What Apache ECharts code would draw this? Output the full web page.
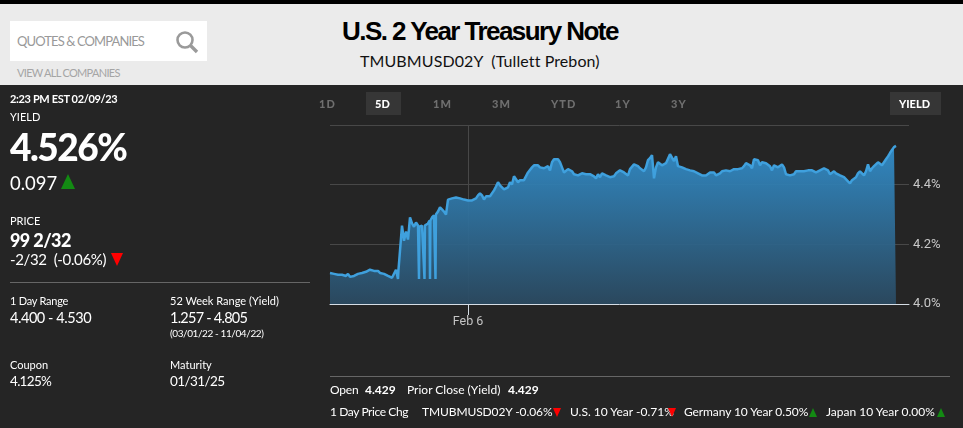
<!DOCTYPE html>
<html>
<head>
<meta charset="utf-8">
<title>U.S. 2 Year Treasury Note</title>
<script src="https://cdn.jsdelivr.net/npm/echarts@6/dist/echarts.min.js"></script>
<style>
    html, body { margin: 0; padding: 0; width: 963px; height: 428px; overflow: hidden; background: #252525; }
    body { position: relative; font-family: Lato, "Noto Sans", sans-serif; color: #fff; }
    #top { position: absolute; left: 0; top: 0; width: 963px; height: 4px; background: #000; }
    #head { position: absolute; left: 0; top: 4px; width: 963px; height: 81px; background: #ebebeb; }
    #search { position: absolute; left: 10px; top: 21px; width: 197px; height: 40px; background: #fff; }
    #chart { position: absolute; left: 0; top: 0; width: 963px; height: 428px; }
    .t { position: absolute; white-space: pre; transform: translateY(-50%); line-height: 1; }
    .tab { font-weight: 900; font-size: 11px; color: #6f6f6f; letter-spacing: 1px; }
    .on { color: #fff; letter-spacing: 0; }
    .box { position: absolute; top: 92px; height: 23px; background: #363636; }
    .rule { position: absolute; height: 1px; background: #666; }
    .up, .down { position: absolute; width: 0; height: 0; border-style: solid; border-color: transparent; }
</style>
</head>
<body>
<div id="top"></div>
<div id="head"></div>
<div id="search"></div>
<svg style="position:absolute;left:175px;top:30px" width="24" height="24" viewBox="0 0 24 24">
    <circle cx="10" cy="10" r="7.5" fill="none" stroke="#9a9a9a" stroke-width="2.6"/>
    <line x1="15.5" y1="15.5" x2="22" y2="22" stroke="#9a9a9a" stroke-width="3.4"/>
</svg>
<div class="t" style="left:17px;top:41px;font-size:13px;letter-spacing:-0.9px;color:#999">QUOTES &amp; COMPANIES</div>
<div class="t" style="left:17px;top:72px;font-size:11px;letter-spacing:-0.7px;color:#a5a5a5">VIEW ALL COMPANIES</div>
<div class="t" style="left:342px;top:31px;font:bold 26px 'Liberation Sans';letter-spacing:-1.55px;color:#000">U.S. 2 Year Treasury Note</div>
<div class="t" style="left:360px;top:61px;font-size:16px;letter-spacing:0.1px;color:#111">TMUBMUSD02Y  (Tullett Prebon)</div>

<div id="chart"></div>

<div class="t" style="left:10px;top:98px;font-size:11px;font-weight:700;letter-spacing:-0.35px">2:23 PM EST 02/09/23</div>
<div class="t" style="left:10px;top:116px;font-size:11px">YIELD</div>
<div class="t" style="left:10px;top:146px;font-size:37px;font-weight:900;letter-spacing:-1.5px">4.526%</div>
<div class="t" style="left:10px;top:183px;font-size:18.5px">0.097</div>
<div class="up" style="left:61px;top:174px;border-width:0 7px 15px;border-bottom-color:#138a13"></div>
<div class="t" style="left:10px;top:220px;font-size:11px">PRICE</div>
<div class="t" style="left:10px;top:240px;font-size:18px;font-weight:900;letter-spacing:-0.6px">99 2/32</div>
<div class="t" style="left:10px;top:259px;font-size:15px;letter-spacing:-0.35px">-2/32  (-0.06%)</div>
<div class="down" style="left:111px;top:253px;border-width:13px 6px 0;border-top-color:#f00"></div>
<div class="rule" style="left:10px;top:282px;width:300px"></div>
<div class="t" style="left:10px;top:300px;font-size:11px;letter-spacing:-0.25px">1 Day Range</div>
<div class="t" style="left:10px;top:318px;font-size:14.5px;letter-spacing:-0.45px">4.400 - 4.530</div>
<div class="t" style="left:170px;top:300px;font-size:11px">52 Week Range (Yield)</div>
<div class="t" style="left:170px;top:318px;font-size:14.5px;letter-spacing:-0.75px">1.257 - 4.805</div>
<div class="t" style="left:170px;top:333px;font-size:10px;letter-spacing:-0.4px">(03/01/22 - 11/04/22)</div>
<div class="t" style="left:10px;top:364px;font-size:11px">Coupon</div>
<div class="t" style="left:10px;top:382px;font-size:13.5px;letter-spacing:-0.7px">4.125%</div>
<div class="t" style="left:170px;top:364px;font-size:11px">Maturity</div>
<div class="t" style="left:170px;top:382px;font-size:13.5px;letter-spacing:-0.6px">01/31/25</div>

<div class="box" style="left:366px;width:35px"></div>
<div class="box" style="left:890px;width:51px"></div>
<div class="t tab" style="left:319px;top:103px">1D</div>
<div class="t tab on" style="left:375px;top:103px">5D</div>
<div class="t tab" style="left:433px;top:103px">1M</div>
<div class="t tab" style="left:492px;top:103px">3M</div>
<div class="t tab" style="left:551px;top:103px">YTD</div>
<div class="t tab" style="left:615px;top:103px">1Y</div>
<div class="t tab" style="left:671px;top:103px">3Y</div>
<div class="t tab on" style="left:899px;top:103px">YIELD</div>

<div class="rule" style="left:330px;top:376px;width:620px"></div>
<div class="t" style="left:330px;top:390px;font-size:12px;letter-spacing:-0.2px">Open</div>
<div class="t" style="left:365px;top:390px;font-size:12px;font-weight:700">4.429</div>
<div class="t" style="left:407px;top:390px;font-size:12px">Prior Close (Yield)</div>
<div class="t" style="left:508px;top:390px;font-size:12px;font-weight:700">4.429</div>
<div class="t" style="left:330px;top:412px;font-size:12px;letter-spacing:-0.4px">1 Day Price Chg</div>
<div class="t" style="left:422px;top:412px;font-size:12px;letter-spacing:-0.1px">TMUBMUSD02Y -0.06%</div>
<div class="down" style="left:553px;top:408px;border-width:9px 4px 0;border-top-color:#f00"></div>
<div class="t" style="left:570px;top:412px;font-size:12px">U.S. 10 Year -0.71%</div>
<div class="down" style="left:668px;top:408px;border-width:9px 4px 0;border-top-color:#f00"></div>
<div class="t" style="left:684px;top:412px;font-size:12px;letter-spacing:-0.1px">Germany 10 Year 0.50%</div>
<div class="up" style="left:809px;top:408px;border-width:0 4px 9px;border-bottom-color:#138a13"></div>
<div class="t" style="left:826px;top:412px;font-size:12px">Japan 10 Year 0.00%</div>
<div class="up" style="left:937px;top:408px;border-width:0 4px 9px;border-bottom-color:#138a13"></div>

<script>
    // yield readings, one per sample across the 5 day window
    const yields = [
        4.104, 4.098, 4.101, 4.104, 4.098, 4.101, 4.098, 4.098, 4.094, 4.101,
        4.091, 4.091, 4.094, 4.098, 4.101, 4.101, 4.104, 4.104, 4.108, 4.111,
        4.115, 4.115, 4.111, 4.111, 4.111, 4.104, 4.104, 4.101, 4.098, 4.094,
        4.091, 4.088, 4.088, 4.115, 4.111, 4.111, 4.263, 4.212, 4.243, 4.216,
        4.290, 4.270, 4.259, 4.273, 4.263, 4.259, 4.263, 4.263, 4.266, 4.270,
        4.280, 4.290, 4.297, 4.300, 4.310, 4.324, 4.317, 4.310, 4.300, 4.350,
        4.350, 4.354, 4.354, 4.357, 4.354, 4.354, 4.350, 4.350, 4.350, 4.347,
        4.347, 4.347, 4.347, 4.354, 4.364, 4.371, 4.364, 4.350, 4.361, 4.357,
        4.361, 4.367, 4.381, 4.394, 4.408, 4.398, 4.391, 4.384, 4.384, 4.391,
        4.408, 4.401, 4.428, 4.431, 4.408, 4.415, 4.421, 4.415, 4.415, 4.441,
        4.445, 4.458, 4.465, 4.468, 4.465, 4.458, 4.455, 4.455, 4.458, 4.462,
        4.448, 4.475, 4.485, 4.485, 4.485, 4.475, 4.458, 4.441, 4.441, 4.452,
        4.448, 4.445, 4.435, 4.431, 4.431, 4.435, 4.438, 4.438, 4.435, 4.435,
        4.435, 4.431, 4.428, 4.421, 4.435, 4.425, 4.438, 4.435, 4.431, 4.428,
        4.425, 4.421, 4.428, 4.438, 4.441, 4.448, 4.445, 4.441, 4.435, 4.431,
        4.452, 4.458, 4.468, 4.465, 4.462, 4.455, 4.452, 4.445, 4.458, 4.482,
        4.489, 4.499, 4.421, 4.458, 4.475, 4.479, 4.465, 4.462, 4.472, 4.472,
        4.502, 4.499, 4.479, 4.495, 4.462, 4.458, 4.458, 4.455, 4.452, 4.452,
        4.448, 4.445, 4.445, 4.441, 4.438, 4.435, 4.431, 4.431, 4.431, 4.431,
        4.441, 4.441, 4.441, 4.431, 4.428, 4.438, 4.445, 4.445, 4.448, 4.445,
        4.445, 4.448, 4.452, 4.452, 4.452, 4.455, 4.455, 4.462, 4.472, 4.468,
        4.465, 4.455, 4.485, 4.489, 4.482, 4.465, 4.475, 4.479, 4.472, 4.468,
        4.462, 4.448, 4.465, 4.465, 4.458, 4.462, 4.468, 4.458, 4.435, 4.435,
        4.431, 4.428, 4.435, 4.445, 4.445, 4.445, 4.445, 4.445, 4.448, 4.448,
        4.452, 4.448, 4.445, 4.441, 4.445, 4.448, 4.452, 4.455, 4.452, 4.448,
        4.435, 4.441, 4.445, 4.438, 4.435, 4.431, 4.428, 4.425, 4.421, 4.411,
        4.404, 4.415, 4.411, 4.425, 4.438, 4.445, 4.438, 4.431, 4.445, 4.468,
        4.445, 4.455, 4.462, 4.468, 4.475, 4.475, 4.465, 4.462, 4.485, 4.495,
        4.506, 4.516, 4.526, 4.530
    ];
    // samples where the feed dropped out for a moment
    const dropoutAt = [34, 44.5, 47.25, 50, 52.75];
    const dropoutYield = 4.084;
    const feb6At = 69;
    const yTicks = [4.0, 4.2, 4.4, 4.6];

    let points = yields.map((v, i) => [i, v]);
    dropoutAt.forEach(t => {
        let top = yields[Math.round(t)];
        points.push([t - 0.2, top], [t, dropoutYield], [t + 0.2, top]);
    });
    points.sort((a, b) => a[0] - b[0]);

    let myChart = echarts.init(document.getElementById('chart'));
    myChart.setOption({
        animation: false,
        backgroundColor: 'transparent',
        grid: { left: 330, top: 125, width: 579, height: 179 },
        xAxis: {
            type: 'value',
            min: 0,
            max: 289.5,
            axisLine: { lineStyle: { color: '#d5dde5', width: 1 } },
            axisTick: { show: true, length: 11, customValues: [feb6At], lineStyle: { color: '#d5dde5' } },
            axisLabel: {
                customValues: [feb6At],
                formatter: () => 'Feb 6',
                color: '#c4c4c4',
                fontFamily: 'Roboto',
                fontSize: 12.5,
                margin: 11
            },
            splitLine: { show: true, lineStyle: { color: '#484848' } }
        },
        yAxis: {
            type: 'value',
            position: 'right',
            min: yTicks[0],
            max: yTicks[yTicks.length - 1],
            interval: 0.2,
            axisLine: { show: false },
            axisTick: { show: false },
            axisLabel: {
                formatter: v => v >= 4.6 ? '' : v.toFixed(1) + '%',
                color: '#c8c8c8',
                fontFamily: 'Roboto',
                fontSize: 13,
                padding: [4, 0, 0, 0],
                margin: 4
            },
            splitLine: { lineStyle: { color: '#484848' } }
        },
        series: [{
            type: 'line',
            data: points,
            showSymbol: false,
            lineStyle: { color: '#3fa0dd', width: 2.5 },
            areaStyle: {
                origin: 'start',
                opacity: 1,
                color: new echarts.graphic.LinearGradient(0, 0, 0, 1, [
                    { offset: 0, color: 'rgba(50,142,203,0.94)' },
                    { offset: 1, color: 'rgba(43,74,97,0.94)' }
                ])
            }
        }]
    });
</script>
</body>
</html>
